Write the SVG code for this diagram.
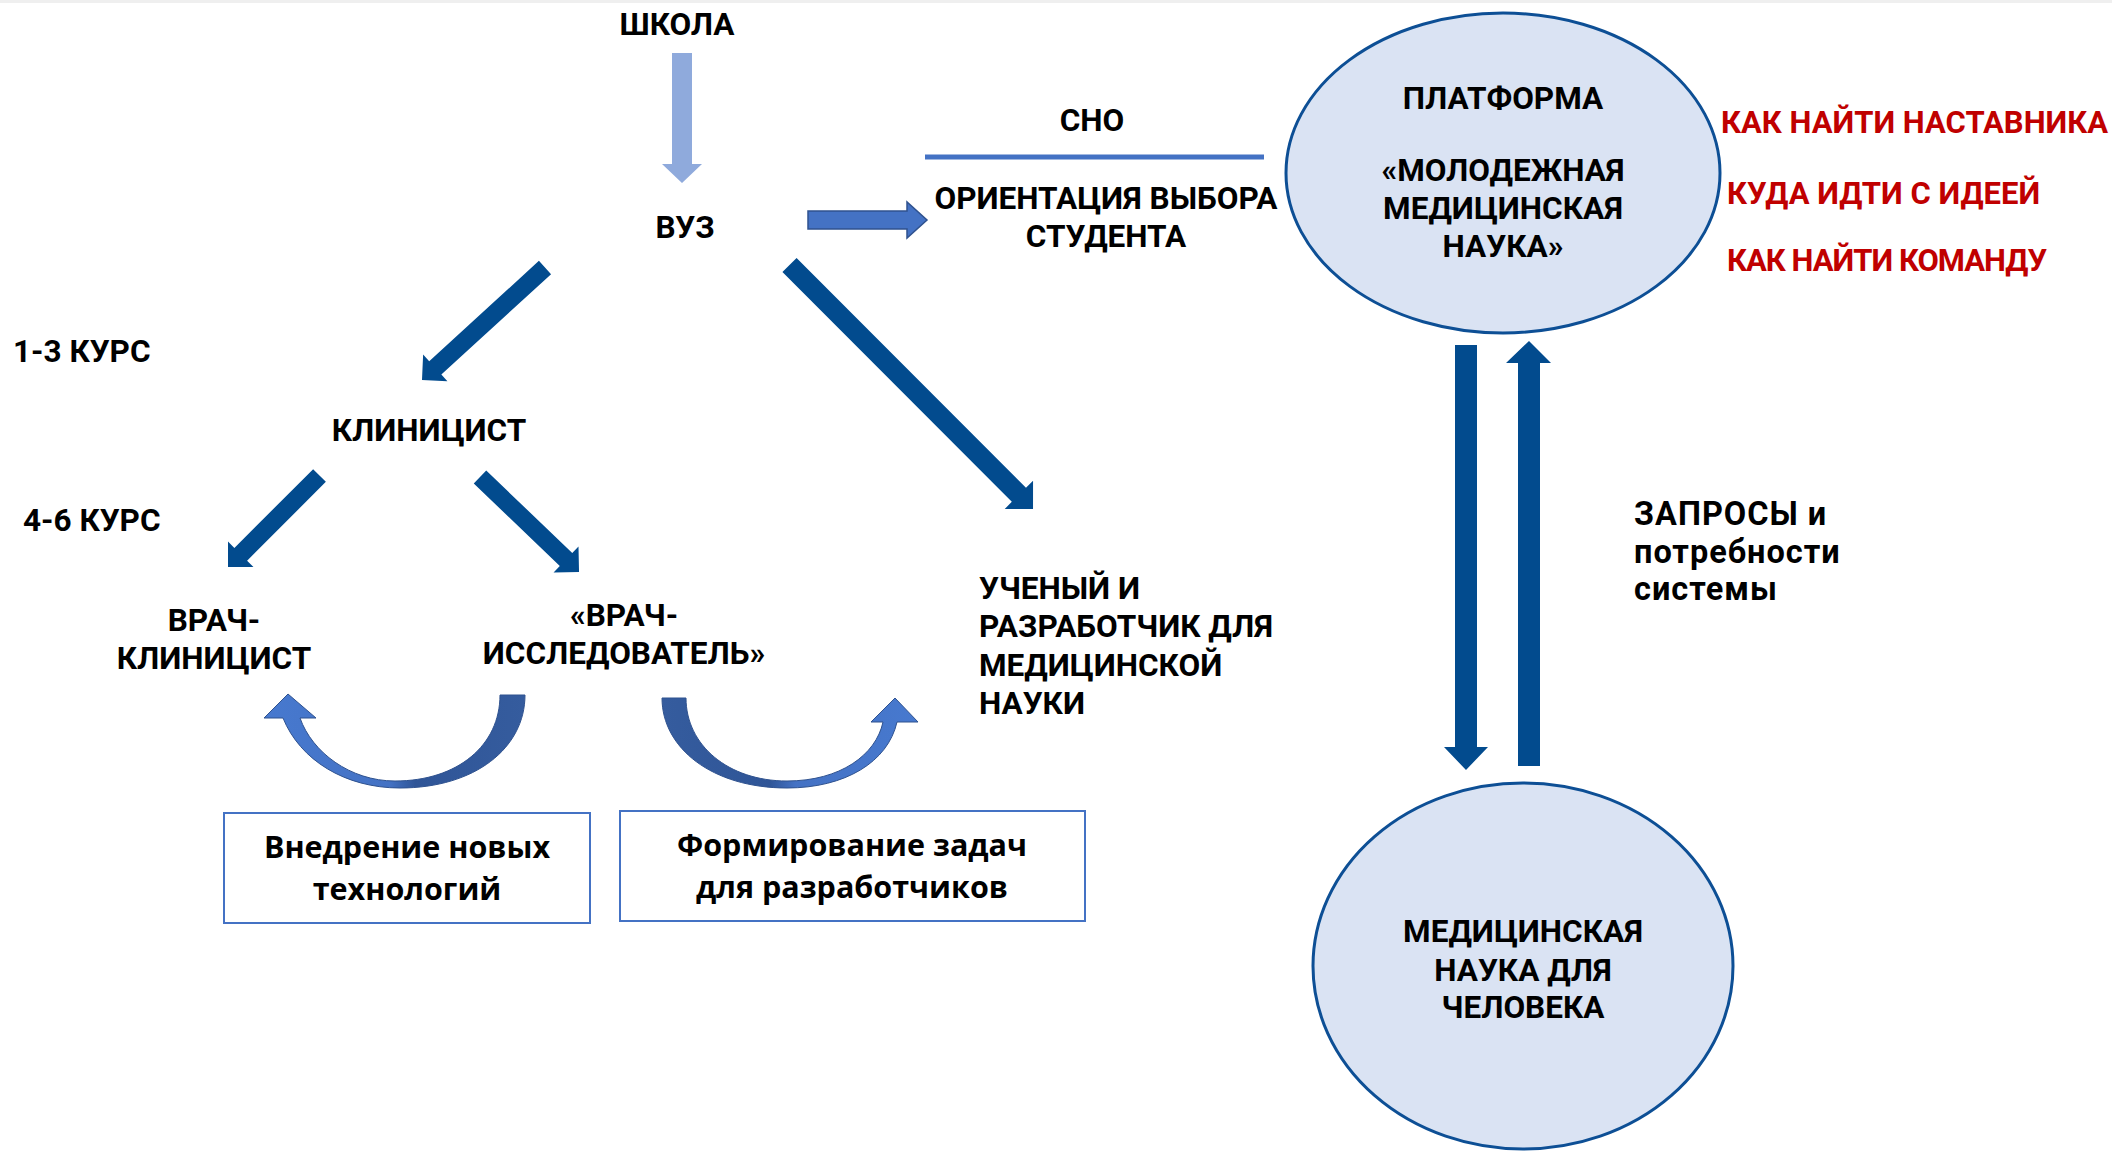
<svg xmlns="http://www.w3.org/2000/svg" width="2112" height="1151" viewBox="0 0 2112 1151">
<style>
  .t{font-family:Roboto,"Liberation Sans",sans-serif;font-weight:700;font-size:31.5px;fill:#000}
  .c{text-anchor:middle}
  .low{font-size:32.5px;letter-spacing:1px}
  .red{font-family:Roboto,"Liberation Sans",sans-serif;font-weight:700;font-size:31px;fill:#C00000}
  .box{font-family:"Open Sans","Liberation Sans",sans-serif;font-weight:700;font-size:30.5px;fill:#000;text-anchor:middle}
  .dark{fill:#024B8E}
  .ell{fill:#DAE3F3;stroke:#0D4F95;stroke-width:3}
  .rect{fill:#fff;stroke:#4472C4;stroke-width:2}
</style>
<defs>
  <linearGradient id="gL" x1="0" y1="0" x2="1" y2="0">
    <stop offset="0" stop-color="#4779CF"/>
    <stop offset="0.48" stop-color="#4472C4"/>
    <stop offset="0.58" stop-color="#2F5597"/>
    <stop offset="1" stop-color="#355C9E"/>
  </linearGradient>
  <linearGradient id="gR" x1="0" y1="0" x2="1" y2="0">
    <stop offset="0" stop-color="#355C9E"/>
    <stop offset="0.42" stop-color="#2F5597"/>
    <stop offset="0.52" stop-color="#4472C4"/>
    <stop offset="1" stop-color="#4779CF"/>
  </linearGradient>
</defs>
<rect x="0" y="0" width="2112" height="1151" fill="#fff"/>
<rect x="0" y="0" width="2112" height="3" fill="#EFEFEF"/>

<g id="connectors">
  <polygon points="672,53 692,53 692,164 702,164 682,183 662,164 672,164" fill="#8FAADC"/>
  <polygon points="808,211 907,211 907,202 927,220 907,238 907,229 808,229" fill="#4472C4" stroke="#2F528F" stroke-width="1.5"/>
  <line x1="925" y1="157" x2="1264" y2="157" stroke="#4472C4" stroke-width="5"/>
  <polygon class="dark" transform="translate(545,267.5) rotate(137.55)" points="0,-9 148.7,-9 148.7,-18 166.7,0 148.7,18 148.7,9 0,9"/>
  <polygon class="dark" transform="translate(319.5,475.5) rotate(135)" points="0,-9 111.4,-9 111.4,-18 129.4,0 111.4,18 111.4,9 0,9"/>
  <polygon class="dark" transform="translate(480,477) rotate(43.8)" points="0,-9 119.2,-9 119.2,-18 137.2,0 119.2,18 119.2,9 0,9"/>
  <polygon class="dark" transform="translate(789.5,265) rotate(45.05)" points="0,-10 324.7,-10 324.7,-20 344.7,0 324.7,20 324.7,10 0,10"/>
  <polygon class="dark" points="1455,345 1477,345 1477,747 1488,747 1466,770 1444,747 1455,747"/>
  <polygon class="dark" points="1518,766 1540,766 1540,363 1551,363 1529,341 1506,363 1518,363"/>
  <path d="M500,695 L525,695 C525,748 475,788 400,788 C345,788 300,760 283,718 L264,718 L288,694 L316,718 L300,718 C312,752 350,781 395,781 C458,781 500,745 500,695 Z" fill="url(#gL)" stroke="#2F528F" stroke-width="1"/>
  <path d="M662,698 L686,698 C686,745 728,781 787,781 C840,781 876,755 883,722 L871,722 L895,698 L918,722 L897,722 C888,762 845,788 787,788 C712,788 662,748 662,698 Z" fill="url(#gR)" stroke="#2F528F" stroke-width="1"/>
</g>

<g id="node-shkola"><text class="t c" x="677" y="35">ШКОЛА</text></g>
<g id="node-vuz"><text class="t c" x="685" y="238">ВУЗ</text></g>
<g id="node-sno">
  <text class="t c" x="1092" y="131">СНО</text>
  <text class="t c" x="1106" y="209">ОРИЕНТАЦИЯ ВЫБОРА</text>
  <text class="t c" x="1106" y="247">СТУДЕНТА</text>
</g>
<g id="node-platform">
  <ellipse class="ell" cx="1503" cy="173" rx="217" ry="160"/>
  <text class="t c" x="1503" y="109">ПЛАТФОРМА</text>
  <text class="t c" x="1503" y="181">«МОЛОДЕЖНАЯ</text>
  <text class="t c" x="1503" y="219">МЕДИЦИНСКАЯ</text>
  <text class="t c" x="1503" y="257">НАУКА»</text>
</g>
<g id="node-questions">
  <text class="red" x="1721" y="133">КАК НАЙТИ НАСТАВНИКА</text>
  <text class="red" x="1727" y="204">КУДА ИДТИ С ИДЕЕЙ</text>
  <text class="red" x="1727" y="271" textLength="320">КАК НАЙТИ КОМАНДУ</text>
</g>
<g id="label-kurs13"><text class="t" x="13" y="362">1-3 КУРС</text></g>
<g id="node-clinicist"><text class="t c" x="429" y="441">КЛИНИЦИСТ</text></g>
<g id="label-kurs46"><text class="t" x="23" y="531">4-6 КУРС</text></g>
<g id="node-vrach-clinicist">
  <text class="t c" x="214" y="631">ВРАЧ-</text>
  <text class="t c" x="214" y="669">КЛИНИЦИСТ</text>
</g>
<g id="node-vrach-researcher">
  <text class="t c" x="624" y="626">«ВРАЧ-</text>
  <text class="t c" x="624" y="664">ИССЛЕДОВАТЕЛЬ»</text>
</g>
<g id="node-scientist">
  <text class="t" x="979" y="599">УЧЕНЫЙ И</text>
  <text class="t" x="979" y="637">РАЗРАБОТЧИК ДЛЯ</text>
  <text class="t" x="979" y="676">МЕДИЦИНСКОЙ</text>
  <text class="t" x="979" y="714">НАУКИ</text>
</g>
<g id="label-requests">
  <text class="t low" x="1634" y="525">ЗАПРОСЫ и</text>
  <text class="t low" x="1634" y="563">потребности</text>
  <text class="t low" x="1634" y="600">системы</text>
</g>
<g id="node-med-science">
  <ellipse class="ell" cx="1523" cy="966" rx="210" ry="183"/>
  <text class="t c" x="1523" y="942">МЕДИЦИНСКАЯ</text>
  <text class="t c" x="1523" y="981">НАУКА ДЛЯ</text>
  <text class="t c" x="1523" y="1018">ЧЕЛОВЕКА</text>
</g>
<g id="node-box-tech">
  <rect class="rect" x="224" y="813" width="366" height="110"/>
  <text class="box" x="407" y="858">Внедрение новых</text>
  <text class="box" x="407" y="900">технологий</text>
</g>
<g id="node-box-tasks">
  <rect class="rect" x="620" y="811" width="465" height="110"/>
  <text class="box" x="852" y="856">Формирование задач</text>
  <text class="box" x="852" y="898">для разработчиков</text>
</g>
</svg>
